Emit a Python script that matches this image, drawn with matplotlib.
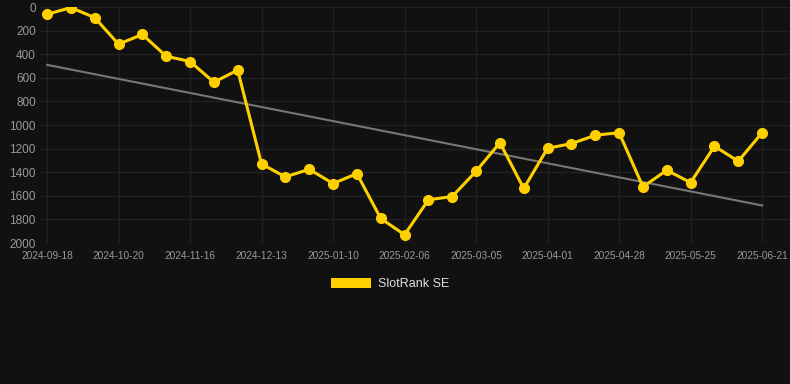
import matplotlib
matplotlib.use("Agg")
import matplotlib.pyplot as plt
from matplotlib.patches import Patch

# rank values (lower = better), one point per ~9 days
ranks = [62, 5, 90, 315, 233, 417, 462, 637, 535, 1330, 1440, 1375, 1496, 1412, 1792,
         1930, 1634, 1606, 1392, 1150, 1538, 1197, 1158, 1087, 1065, 1524, 1383, 1488,
         1180, 1307, 1065]
tick_labels = ["2024-09-18", "2024-10-20", "2024-11-16", "2024-12-13", "2025-01-10",
               "2025-02-06", "2025-03-05", "2025-04-01", "2025-04-28", "2025-05-25",
               "2025-06-21"]
trend_start = 490
trend_end = 1682

bg = "#111111"
plt.rcParams["font.family"] = ["Liberation Sans", "DejaVu Sans"]

fig = plt.figure(figsize=(7.9, 3.84), dpi=100, facecolor=bg)
ax = fig.add_axes([40 / 790, 1 - 243 / 384, 750 / 790, 236 / 384], facecolor=bg)

x = list(range(len(ranks)))
ax.plot([x[0], x[-1]], [trend_start, trend_end], color="#777777", lw=1.5, zorder=2)
ax.plot(x, ranks, color="#FFD000", lw=2.2, marker="o", ms=7, zorder=3)

ax.set_ylim(2000, 0)
ax.set_yticks(range(0, 2001, 200))
ax.set_xlim(-0.294, 31.17)
ax.set_xticks(x[::3])
ax.set_xticklabels(tick_labels)

ax.grid(True, color="#212121", lw=1)
ax.set_axisbelow(True)
for s in ax.spines.values():
    s.set_visible(False)
ax.tick_params(axis="y", colors="#999999", labelsize=8.5, length=0, pad=3)
ax.tick_params(axis="x", colors="#999999", labelsize=7.3, length=0, pad=6)

handle = Patch(facecolor="#FFD000", edgecolor="none")
fig.legend([handle], ["SlotRank SE"], loc="center", bbox_to_anchor=(390 / 790, 1 - 284 / 384),
           frameon=False, labelcolor="#dddddd", fontsize=9, handlelength=3.2, handleheight=0.9,
           handletextpad=0.6)

fig.savefig("out.png", dpi=100, facecolor=bg)
